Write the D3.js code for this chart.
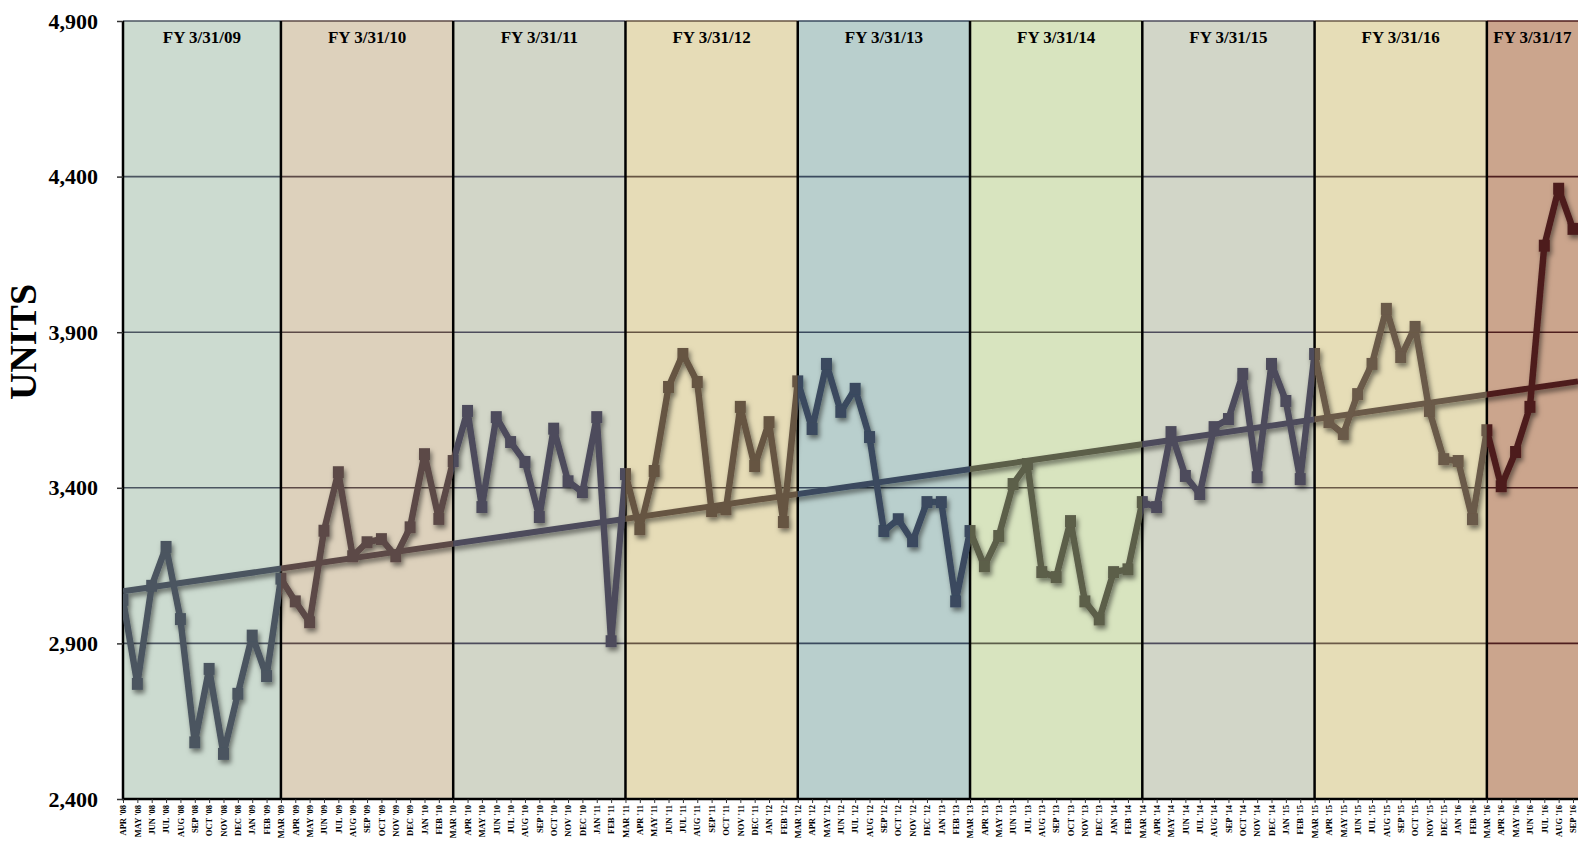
<!DOCTYPE html>
<html>
<head>
<meta charset="utf-8">
<title>Units by month</title>
<script src="https://cdn.jsdelivr.net/npm/d3@7"></script>
<style>
html, body { margin: 0; padding: 0; background: #fff; overflow: hidden; }
svg { display: block; }
svg text { font-family: "Liberation Serif", "Times New Roman", serif; font-weight: bold; }
</style>
</head>
<body>
<div id="chart"></div>
<script>

// month labels, one fiscal year (Apr-Mar) per line
var months = [
	"APR '08","MAY '08","JUN '08","JUL '08","AUG '08","SEP '08","OCT '08","NOV '08","DEC '08","JAN '09","FEB '09","MAR '09",
	"APR '09","MAY '09","JUN '09","JUL '09","AUG '09","SEP '09","OCT '09","NOV '09","DEC '09","JAN '10","FEB '10","MAR '10",
	"APR '10","MAY '10","JUN '10","JUL '10","AUG '10","SEP '10","OCT '10","NOV '10","DEC '10","JAN '11","FEB '11","MAR '11",
	"APR '11","MAY '11","JUN '11","JUL '11","AUG '11","SEP '11","OCT '11","NOV '11","DEC '11","JAN '12","FEB '12","MAR '12",
	"APR '12","MAY '12","JUN '12","JUL '12","AUG '12","SEP '12","OCT '12","NOV '12","DEC '12","JAN '13","FEB '13","MAR '13",
	"APR '13","MAY '13","JUN '13","JUL '13","AUG '13","SEP '13","OCT '13","NOV '13","DEC '13","JAN '14","FEB '14","MAR '14",
	"APR '14","MAY '14","JUN '14","JUL '14","AUG '14","SEP '14","OCT '14","NOV '14","DEC '14","JAN '15","FEB '15","MAR '15",
	"APR '15","MAY '15","JUN '15","JUL '15","AUG '15","SEP '15","OCT '15","NOV '15","DEC '15","JAN '16","FEB '16","MAR '16",
	"APR '16","MAY '16","JUN '16","JUL '16","AUG '16","SEP '16"
];

var units = [
	3040, 2770, 3085, 3210, 2978, 2582, 2818, 2545, 2738, 2925, 2795, 3108,
	3035, 2968, 3262, 3450, 3180, 3225, 3235, 3180, 3273, 3508, 3300, 3486,
	3647, 3338, 3627, 3547, 3483, 3306, 3590, 3421, 3386, 3627, 2907, 3444,
	3267, 3454, 3724, 3830, 3740, 3325, 3331, 3660, 3470, 3611, 3290, 3742,
	3589, 3798, 3644, 3718, 3563, 3261, 3299, 3228, 3354, 3354, 3035, 3261,
	3148, 3245, 3412, 3476, 3129, 3113, 3293, 3035, 2977, 3129, 3138, 3354,
	3338, 3579, 3438, 3380, 3595, 3621, 3766, 3434, 3798, 3679, 3428, 3830,
	3611, 3573, 3701, 3798, 3975, 3820, 3917, 3647, 3492, 3486, 3299, 3585,
	3405, 3515, 3660, 4178, 4361, 4232
];

var fiscalYears = ["FY 3/31/09","FY 3/31/10","FY 3/31/11","FY 3/31/12","FY 3/31/13","FY 3/31/14","FY 3/31/15","FY 3/31/16","FY 3/31/17"];
var yTicks = [2400, 2900, 3400, 3900, 4400, 4900];

var bandFill = ["#ccdbd0","#ddd1bc","#d2d6c8","#e6dcb7","#b9cfcd","#d8e4bf","#d2d6c8","#e6ddb7","#cba58d"];
var lineColor = ["#4b5560","#5c4a47","#4d4c5c","#665543","#3a4a5e","#5c5e4a","#4e4c5c","#6b5a48","#4e1e1e"];

var width = 1578, height = 843;
var plotL = 123, plotR = 1578, plotT = 21, plotB = 799;

var x = d3.scalePoint().domain(d3.range(months.length)).range([plotL, 1573]);
var y = d3.scaleLinear().domain([2400, 4900]).range([plotB, plotT]);

// fiscal year edges: each year closes on a MAR point
var edges = [0];
months.forEach(function (m, i) { if (m.indexOf("MAR") == 0) edges.push(i); });
var bands = fiscalYears.map(function (f, i) {
	var x0 = x(edges[i]);
	var x1 = (i + 1 < edges.length) ? x(edges[i + 1]) : plotR;
	return {label: f, x0: x0, x1: x1, fill: bandFill[i], color: lineColor[i]};
});

// least squares trend line over the month index
var mx = d3.mean(units, function (d, i) { return i; }), my = d3.mean(units);
var sxy = 0, sxx = 0;
units.forEach(function (d, i) { sxy += (i - mx) * (d - my); sxx += (i - mx) * (i - mx); });
var slope = sxy / sxx, icept = my - slope * mx;
var lastIdx = (plotR - plotL) / x.step();
var trend = [[plotL, y(icept)], [plotR, y(icept + slope * lastIdx)]];

var svg = d3.select("#chart").append("svg")
	.attr("width", width)
	.attr("height", height);

var defs = svg.append("defs");
defs.append("filter").attr("id", "shadow")
	.attr("x", "-10%").attr("y", "-10%").attr("width", "120%").attr("height", "130%")
	.append("feDropShadow")
		.attr("dx", 2).attr("dy", 3.5).attr("stdDeviation", 2.5)
		.attr("flood-color", "#000").attr("flood-opacity", 0.5);

bands.forEach(function (b, i) {
	defs.append("clipPath").attr("id", "clip" + i)
		.append("rect")
			.attr("x", b.x0).attr("y", plotT - 2)
			.attr("width", b.x1 - b.x0).attr("height", plotB - plotT + 4);
});

// backgrounds
svg.append("g").selectAll("rect")
	.data(bands)
	.enter().append("rect")
		.attr("x", function (d) { return d.x0; })
		.attr("y", plotT)
		.attr("width", function (d) { return d.x1 - d.x0; })
		.attr("height", plotB - plotT)
		.attr("fill", function (d) { return d.fill; });

// gridlines, tinted per band
bands.forEach(function (b, i) {
	svg.append("g").attr("clip-path", "url(#clip" + i + ")")
		.selectAll("line")
		.data(yTicks.slice(1))
		.enter().append("line")
			.attr("x1", plotL).attr("x2", plotR)
			.attr("y1", function (d) { return y(d); })
			.attr("y2", function (d) { return y(d); })
			.attr("stroke", b.color)
			.attr("stroke-width", 1.6);
});

// fiscal year dividers
svg.append("g").selectAll("line")
	.data(edges)
	.enter().append("line")
		.attr("x1", function (d) { return x(d); })
		.attr("x2", function (d) { return x(d); })
		.attr("y1", plotT)
		.attr("y2", plotB)
		.attr("stroke", "#000")
		.attr("stroke-width", 2.5);

svg.append("line")
	.attr("x1", plotL - 1).attr("x2", plotR)
	.attr("y1", plotB).attr("y2", plotB)
	.attr("stroke", "#000").attr("stroke-width", 2.5);

// FY titles
svg.append("g").selectAll("text")
	.data(bands)
	.enter().append("text")
		.attr("x", function (d) { return (d.x0 + d.x1) / 2; })
		.attr("y", 43)
		.attr("text-anchor", "middle")
		.attr("font-size", "17px")
		.attr("fill", "#000")
		.text(function (d) { return d.label; });

// series and trend, drawn once per band and clipped to it
var line = d3.line()
	.x(function (d, i) { return x(i); })
	.y(function (d) { return y(d); });

bands.forEach(function (b, i) {
	var g = svg.append("g").attr("clip-path", "url(#clip" + i + ")")
		.append("g").attr("filter", "url(#shadow)");
	g.append("path")
		.attr("d", d3.line()(trend))
		.attr("fill", "none")
		.attr("stroke", b.color)
		.attr("stroke-width", 6);
	g.append("path")
		.datum(units)
		.attr("d", line)
		.attr("fill", "none")
		.attr("stroke", b.color)
		.attr("stroke-width", 6.5)
		.attr("stroke-linejoin", "round");
	g.selectAll("rect")
		.data(units)
		.enter().append("rect")
			.attr("x", function (d, j) { return x(j) - 5.5; })
			.attr("y", function (d) { return y(d) - 6; })
			.attr("width", 11)
			.attr("height", 12)
			.attr("fill", b.color);
});

// y axis
var yAxis = svg.append("g")
	.attr("transform", "translate(" + plotL + ",0)")
	.call(d3.axisLeft(y).tickValues(yTicks).tickSize(6).tickPadding(19).tickFormat(d3.format(",")));
yAxis.select(".domain").remove();
yAxis.selectAll("line").attr("stroke", "#333").attr("stroke-width", 1.5);
yAxis.selectAll("text").attr("font-size", "22px").attr("fill", "#000");

// x axis
var xAxis = svg.append("g")
	.attr("transform", "translate(0," + plotB + ")")
	.call(d3.axisBottom(x).tickSize(4).tickFormat(function (i) { return months[i]; }));
xAxis.select(".domain").remove();
xAxis.selectAll("line").attr("stroke", "#333");
xAxis.selectAll("text")
	.attr("font-size", "8.5px")
	.attr("fill", "#000")
	.attr("transform", "rotate(-90)")
	.attr("x", -6)
	.attr("y", 0)
	.attr("dy", "0.32em")
	.attr("text-anchor", "end");

svg.append("text")
	.attr("transform", "translate(36,342) rotate(-90)")
	.attr("text-anchor", "middle")
	.attr("font-size", "38px")
	.attr("fill", "#000")
	.text("UNITS");

</script>
</body>
</html>
